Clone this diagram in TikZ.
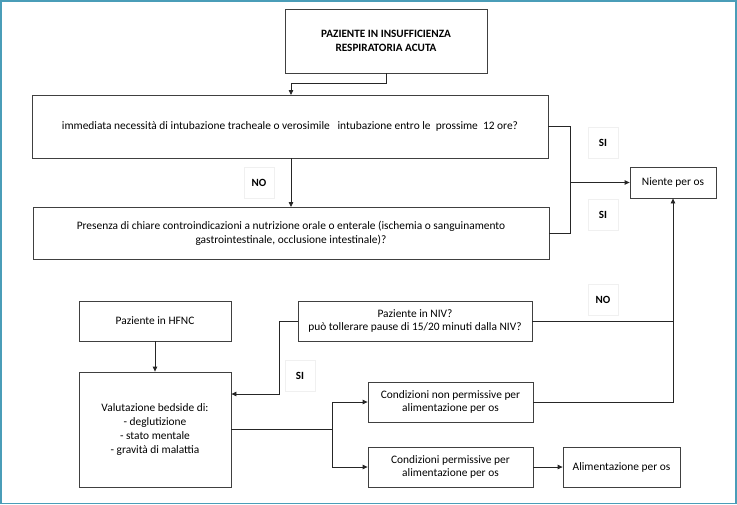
\documentclass[tikz,border=0pt]{standalone}
\usepackage{fontspec}
\setmainfont{Carlito}
\usetikzlibrary{arrows.meta}
\definecolor{frame}{HTML}{4A9DB8}
\definecolor{boxline}{HTML}{404040}
\begin{document}
\begin{tikzpicture}[x=1pt,y=-1pt,
  box/.style={draw=boxline,line width=0.8pt,fill=white,inner sep=0pt,align=center,font=\fontsize{11.4}{13.8}\selectfont},
  lbl/.style={draw=black!6,line width=0.5pt,fill=white,minimum width=30pt,minimum height=31pt,inner sep=0pt,font=\bfseries\fontsize{11}{12}\selectfont},
  conn/.style={draw=black!85,line width=0.8pt},
  arr/.style={conn,-{Triangle[length=5pt,width=4.5pt]}}]
\useasboundingbox (0,0) rectangle (737,504);
\draw[frame,line width=1.5pt] (0.75,0.75) rectangle (736,503.25);
% boxes
\node[box,minimum width=202pt,minimum height=64pt,font=\bfseries\fontsize{11.2}{13.8}\selectfont] (top) at (386,41) {PAZIENTE IN INSUFFICIENZA\\RESPIRATORIA ACUTA};
\node[box,minimum width=516pt,minimum height=63pt] (intub) at (290,126.5) {immediata necessità di intubazione tracheale o verosimile \ \ intubazione entro le \ prossime \ 12 ore?};
\node[box,minimum width=516pt,minimum height=52pt] (contro) at (291,233) {Presenza di chiare controindicazioni a nutrizione orale o enterale (ischemia o sanguinamento\\gastrointestinale, occlusione intestinale)?};
\node[box,minimum width=86pt,minimum height=31pt] (niente) at (673,182.5) {Niente per os};
\node[box,minimum width=234pt,minimum height=40pt] (niv) at (415,321) {Paziente in NIV?\\può tollerare pause di 15/20 minuti dalla NIV?};
\node[box,minimum width=152pt,minimum height=40pt] (hfnc) at (155,321) {Paziente in HFNC};
\node[box,minimum width=152pt,minimum height=115pt] (val) at (155,429.5) {Valutazione bedside di:\\- deglutizione\\- stato mentale\\- gravità di malattia};
\node[box,minimum width=165pt,minimum height=40pt] (nonperm) at (450.5,402) {Condizioni non permissive per\\alimentazione per os};
\node[box,minimum width=165pt,minimum height=40pt] (perm) at (450.5,467) {Condizioni permissive per\\alimentazione per os};
\node[box,minimum width=117pt,minimum height=40pt] (alim) at (621.5,467) {Alimentazione per os};
% labels
\node[lbl] (no1) at (259,182.5) {NO};
\node[lbl] (si1) at (603,142.5) {SI};
\node[lbl] (si2) at (603,214.5) {SI};
\node[lbl] (no2) at (603,299.5) {NO};
\node[lbl] (si3) at (300,376) {SI};
% coordinates
\coordinate (jR) at (570,182.5);
\coordinate (jV) at (673,321);
\coordinate (jB) at (332,429);
% connectors
\draw[arr] (top.south) |- (291,83) -- (291,95);
\draw[arr] (291,158) -- (291,207);
\draw[conn] (intub.east) -| (jR);
\draw[conn] (contro.east) -| (jR);
\draw[arr] (jR) -- (niente.west);
\draw[arr] (nonperm.east) -| (niente.south);
\draw[conn] (niv.east) -- (jV);
\draw[arr] (niv.west) -| (279,394) -- (val.east |- 0,394);
\draw[arr] (hfnc.south) -- (val.north);
\draw[conn] (val.east |- jB) -- (jB);
\draw[arr] (jB) |- (nonperm.west);
\draw[arr] (jB) |- (perm.west);
\draw[arr] (perm.east) -- (alim.west);
\end{tikzpicture}
\end{document}
